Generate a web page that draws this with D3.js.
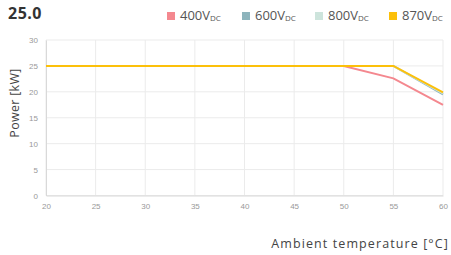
<!DOCTYPE html>
<html>
<head>
<meta charset="utf-8">
<script src="https://cdn.jsdelivr.net/npm/d3@7"></script>
<style>
  body { margin: 0; background: #fff; }
  svg { font-family: "Open Sans", sans-serif; }
</style>
</head>
<body>
<svg id="chart" width="451" height="255"></svg>
<script>
const temps = [20, 25, 30, 35, 40, 45, 50, 55, 60];
const seriesNames = ['400', '600', '800', '870'];
const seriesColors = ['#f4888f', '#8db4bc', '#cde4dc', '#fcc00a'];
const p400 = [25, 25, 25, 25, 25, 25, 25, 22.6, 17.5];
const p600 = [25, 25, 25, 25, 25, 25, 25, 25, 19.5];
const p800 = [25, 25, 25, 25, 25, 25, 25, 25, 19.7];
const p870 = [25, 25, 25, 25, 25, 25, 25, 25, 19.9];
const yTicks = [0, 5, 10, 15, 20, 25, 30];

const margin = {top: 40, right: 8, bottom: 59.5, left: 46};
const width = 451 - margin.left - margin.right;
const height = 255 - margin.top - margin.bottom;

const svg = d3.select('#chart');

const x = d3.scaleLinear().domain([20, 60]).range([0, width]);
const y = d3.scaleLinear().domain([0, 30]).range([height, 0]);

const g = svg.append('g').attr('transform', `translate(${margin.left},${margin.top})`);

// grid
g.append('g')
    .selectAll('line')
    .data(yTicks)
    .join('line')
    .attr('x1', 0).attr('x2', width)
    .attr('y1', d => y(d)).attr('y2', d => y(d))
    .attr('stroke', '#ebebeb').attr('stroke-width', 1);
g.append('g')
    .selectAll('line')
    .data(temps)
    .join('line')
    .attr('y1', 0).attr('y2', height)
    .attr('x1', d => x(d)).attr('x2', d => x(d))
    .attr('stroke', '#ebebeb').attr('stroke-width', 1);

// axes
const xAxis = g.append('g')
    .attr('transform', `translate(0,${height})`)
    .call(d3.axisBottom(x).tickValues(temps).tickSize(0).tickPadding(8));
xAxis.select('.domain').attr('stroke', '#d9d9d9');
xAxis.selectAll('text').attr('fill', '#999').style('font-size', '8px');

const yAxis = g.append('g')
    .call(d3.axisLeft(y).tickValues(yTicks).tickSize(0).tickPadding(8));
yAxis.select('.domain').attr('stroke', '#d9d9d9');
yAxis.selectAll('text').attr('fill', '#999').style('font-size', '8px');

// lines
const all = [p400, p600, p800, p870];
const line = d3.line()
    .x((d, i) => x(temps[i]))
    .y(d => y(d));
all.forEach((vals, i) => {
    g.append('path')
        .datum(vals)
        .attr('fill', 'none')
        .attr('stroke', seriesColors[i])
        .attr('stroke-width', 2)
        .attr('d', line);
});

// axis titles
svg.append('text')
    .attr('transform', 'translate(19,103) rotate(-90)')
    .attr('text-anchor', 'middle')
    .attr('fill', '#444')
    .style('font-size', '12.5px')
    .style('letter-spacing', '0.3px')
    .text('Power [kW]');

svg.append('text')
    .attr('x', 449).attr('y', 248)
    .attr('text-anchor', 'end')
    .attr('fill', '#444')
    .style('font-size', '12.5px')
    .style('letter-spacing', '1.1px')
    .text('Ambient temperature [°C]');

// title
svg.append('text')
    .attr('x', 8).attr('y', 19)
    .attr('fill', '#333')
    .style('font-size', '16px')
    .style('font-weight', 'bold')
    .style('letter-spacing', '0.5px')
    .text('25.0');

// legend
const legendX = [167, 242, 315, 389];
const legend = svg.append('g');
seriesNames.forEach((name, i) => {
    legend.append('rect')
        .attr('x', legendX[i]).attr('y', 12)
        .attr('width', 8).attr('height', 8)
        .attr('fill', seriesColors[i]);
    const t = legend.append('text')
        .attr('x', legendX[i] + 13).attr('y', 20)
        .attr('fill', '#555')
        .style('font-size', '13px');
    t.append('tspan').text(name + 'V');
    t.append('tspan').attr('dy', 1).style('font-size', '8px').text('DC');
});
</script>
</body>
</html>
